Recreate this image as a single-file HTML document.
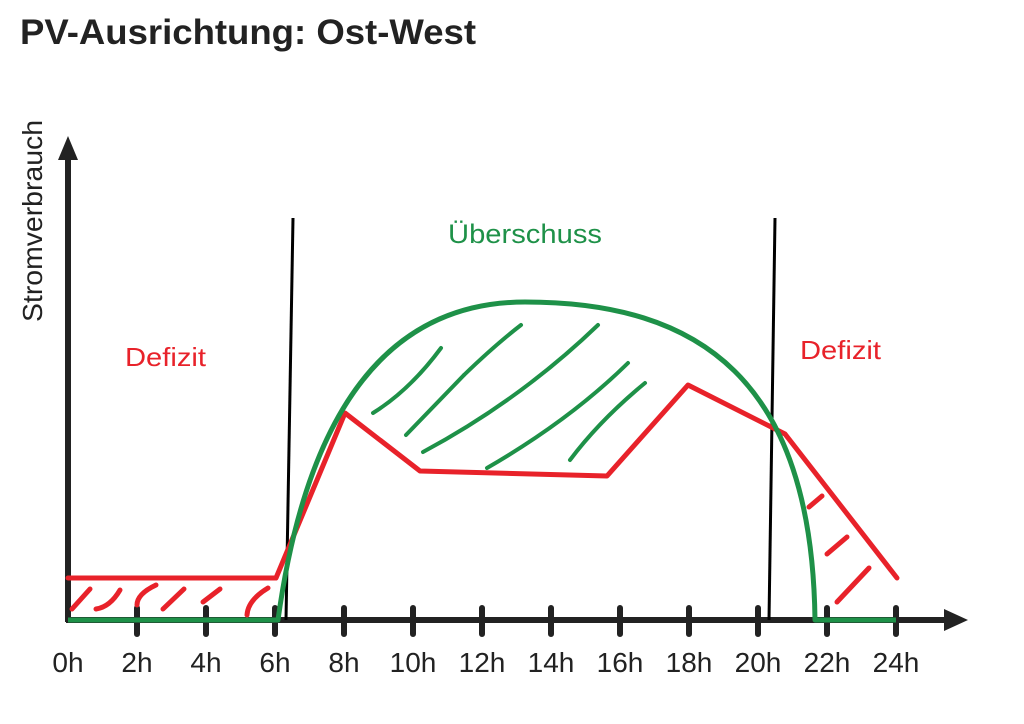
<!DOCTYPE html>
<html><head><meta charset="utf-8"><style>
html,body{margin:0;padding:0;background:#fff;}
svg{display:block;font-family:"Liberation Sans",Arial,sans-serif;}
</style></head><body>
<svg width="1024" height="724" viewBox="0 0 1024 724">
<text x="20" y="44" font-size="35" font-weight="bold" fill="#222" textLength="456" lengthAdjust="spacingAndGlyphs">PV-Ausrichtung: Ost-West</text>
<text transform="translate(42,322) rotate(-90)" font-size="28" fill="#222" textLength="202" lengthAdjust="spacingAndGlyphs">Stromverbrauch</text>
<!-- axes -->
<line x1="68" y1="622" x2="68" y2="160" stroke="#222" stroke-width="6"/>
<polygon points="68,136 58,160 78,160" fill="#222"/>
<line x1="66" y1="620" x2="945" y2="620" stroke="#222" stroke-width="6"/>
<polygon points="968,620 944,609 944,631" fill="#222"/>
<g stroke="#222" stroke-width="6" stroke-linecap="round">
<line x1="137" y1="608" x2="137" y2="634"/><line x1="206" y1="608" x2="206" y2="634"/>
<line x1="275" y1="608" x2="275" y2="634"/><line x1="344" y1="608" x2="344" y2="634"/>
<line x1="413" y1="608" x2="413" y2="634"/><line x1="482" y1="608" x2="482" y2="634"/>
<line x1="551" y1="608" x2="551" y2="634"/><line x1="620" y1="608" x2="620" y2="634"/>
<line x1="689" y1="608" x2="689" y2="634"/><line x1="758" y1="608" x2="758" y2="634"/>
<line x1="827" y1="608" x2="827" y2="634"/><line x1="896" y1="608" x2="896" y2="634"/>
</g>
<g font-size="28" fill="#222" text-anchor="middle">
<text x="68" y="672">0h</text><text x="137" y="672">2h</text><text x="206" y="672">4h</text>
<text x="275" y="672">6h</text><text x="344" y="672">8h</text><text x="413" y="672">10h</text>
<text x="482" y="672">12h</text><text x="551" y="672">14h</text><text x="620" y="672">16h</text>
<text x="689" y="672">18h</text><text x="758" y="672">20h</text><text x="827" y="672">22h</text>
<text x="896" y="672">24h</text>
</g>
<!-- black lines -->
<line x1="293" y1="218" x2="286" y2="620" stroke="#000" stroke-width="3"/>
<line x1="775" y1="218" x2="769" y2="620" stroke="#000" stroke-width="3"/>
<!-- red hatches -->
<g stroke="#e8222a" stroke-width="5" fill="none" stroke-linecap="round">
<path d="M72,609 L90,589"/><path d="M96,609 Q110,607 120,590"/><path d="M137,605 Q137,594 156,585"/>
<path d="M163,609 L184,589"/><path d="M203,602 L220,589"/><path d="M247,615 Q248,600 268,588"/>
<path d="M809,507 L822,496"/><path d="M827,554 L847,537"/><path d="M837,602 L869,568"/>
</g>
<!-- green hatches -->
<g stroke="#1e9148" stroke-width="4" fill="none" stroke-linecap="round">
<path d="M373,413 Q410,390 441,348"/>
<path d="M406,435 Q440,400 464,375"/><path d="M464,375 Q495,345 521,325"/>
<path d="M423,452 Q520,400 598,325"/>
<path d="M487,468 Q570,420 628,363"/>
<path d="M570,460 Q600,420 645,383"/>
</g>
<!-- red line -->
<polyline points="68,578 276,578 345,413 420,471 607,476 688,385 785,434 897,578" fill="none" stroke="#e8222a" stroke-width="5" stroke-linejoin="round" stroke-linecap="round"/>
<!-- green curve -->
<path d="M68,620 L278,620 C300,460 360,302 525,302 C700,302 812,380 815,620 L896,620" fill="none" stroke="#1e9148" stroke-width="5" stroke-linejoin="round"/>
<text x="125" y="366" font-size="26" fill="#e8222a" textLength="81" lengthAdjust="spacingAndGlyphs">Defizit</text>
<text x="800" y="359" font-size="26" fill="#e8222a" textLength="81" lengthAdjust="spacingAndGlyphs">Defizit</text>
<text x="448" y="243" font-size="27" fill="#1e9148" textLength="154" lengthAdjust="spacingAndGlyphs">Überschuss</text>
</svg>
</body></html>
